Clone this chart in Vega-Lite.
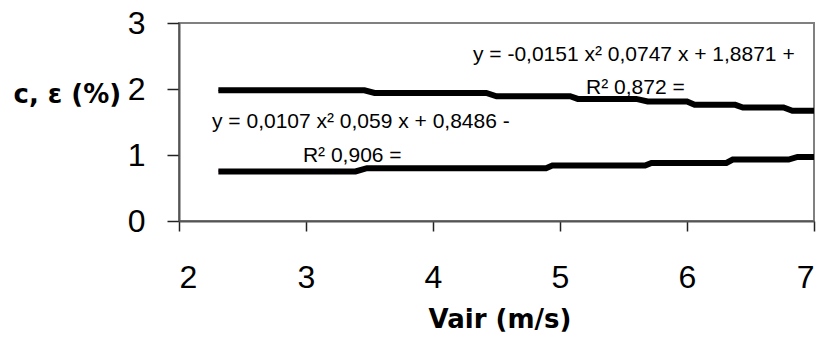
{
  "$schema": "https://vega.github.io/schema/vega-lite/v6.json",
  "autosize": {"type": "none"},
  "padding": {"left": 179, "top": 23, "right": 9, "bottom": 119},
  "width": 635,
  "height": 198,
  "background": "white",
  "datasets": {
    "lines": [
      {"x": 2.31, "y": 1.98, "s": "c"}, {"x": 3.46, "y": 1.98, "s": "c"}, {"x": 3.54, "y": 1.94, "s": "c"},
      {"x": 4.42, "y": 1.94, "s": "c"}, {"x": 4.50, "y": 1.89, "s": "c"}, {"x": 5.08, "y": 1.89, "s": "c"},
      {"x": 5.14, "y": 1.85, "s": "c"}, {"x": 5.60, "y": 1.85, "s": "c"}, {"x": 5.69, "y": 1.81, "s": "c"},
      {"x": 6.00, "y": 1.81, "s": "c"}, {"x": 6.06, "y": 1.76, "s": "c"}, {"x": 6.38, "y": 1.76, "s": "c"},
      {"x": 6.44, "y": 1.72, "s": "c"}, {"x": 6.76, "y": 1.72, "s": "c"}, {"x": 6.83, "y": 1.67, "s": "c"},
      {"x": 7.00, "y": 1.67, "s": "c"},
      {"x": 2.31, "y": 0.75, "s": "e"}, {"x": 3.39, "y": 0.75, "s": "e"}, {"x": 3.48, "y": 0.80, "s": "e"},
      {"x": 4.89, "y": 0.80, "s": "e"}, {"x": 4.94, "y": 0.84, "s": "e"}, {"x": 5.67, "y": 0.84, "s": "e"},
      {"x": 5.72, "y": 0.88, "s": "e"}, {"x": 6.31, "y": 0.88, "s": "e"}, {"x": 6.36, "y": 0.93, "s": "e"},
      {"x": 6.80, "y": 0.93, "s": "e"}, {"x": 6.87, "y": 0.97, "s": "e"}, {"x": 7.00, "y": 0.97, "s": "e"}
    ],
    "notes": [
      {"x": 4.315, "y": 2.424, "t": "y = -0,0151 x² 0,0747 x + 1,8871  +"},
      {"x": 5.205, "y": 1.924, "t": "R² 0,872 ="},
      {"x": 2.26, "y": 1.409, "t": "y = 0,0107 x² 0,059 x + 0,8486  -"},
      {"x": 2.976, "y": 0.894, "t": "R² 0,906 ="}
    ]
  },
  "layer": [
    {
      "data": {"name": "lines"},
      "transform": [
        {"regression": "y", "on": "x", "groupby": ["s"], "method": "poly", "order": 2, "extent": [2.31, 7.0]}
      ],
      "mark": {"type": "line", "strokeWidth": 1.5},
      "encoding": {
        "x": {
          "field": "x", "type": "quantitative",
          "scale": {"domain": [2, 7], "nice": false, "zero": false},
          "axis": {
            "values": [2, 3, 4, 5, 6, 7],
            "format": "d",
            "title": "Vair (m/s)",
            "titleX": 320.5, "titleY": 106, "titleAlign": "center", "titleBaseline": "alphabetic",
            "tickSize": 10, "labelPadding": 31
          }
        },
        "y": {
          "field": "y", "type": "quantitative",
          "scale": {"domain": [0, 3], "nice": false},
          "axis": {
            "values": [0, 1, 2, 3],
            "format": "d",
            "title": "c, ε (%)",
            "titleAngle": 0, "titleX": -166, "titleY": 79, "titleAlign": "left", "titleBaseline": "alphabetic",
            "tickSize": 12, "labelPadding": 22
          }
        },
        "color": {
          "field": "s", "type": "nominal",
          "scale": {"domain": ["c", "e"], "range": ["#000080", "#FF00FF"]},
          "legend": null
        }
      }
    },
    {
      "data": {"name": "lines"},
      "mark": {"type": "line", "color": "#000000", "strokeWidth": 6, "strokeCap": "butt", "strokeJoin": "miter"},
      "encoding": {
        "x": {"field": "x", "type": "quantitative"},
        "y": {"field": "y", "type": "quantitative"},
        "detail": {"field": "s", "type": "nominal"}
      }
    },
    {
      "data": {"name": "notes"},
      "mark": {"type": "text", "align": "left", "baseline": "alphabetic", "font": "Liberation Sans", "fontSize": 21, "color": "#000000"},
      "encoding": {
        "x": {"field": "x", "type": "quantitative"},
        "y": {"field": "y", "type": "quantitative"},
        "text": {"field": "t", "type": "nominal"}
      }
    }
  ],
  "config": {
    "view": {"stroke": "#808080", "strokeWidth": 2},
    "axis": {
      "grid": false,
      "labelFont": "Liberation Sans",
      "labelFontSize": 32,
      "labelColor": "#000000",
      "titleFont": "DejaVu Sans",
      "titleFontWeight": "bold",
      "titleFontSize": 26,
      "titleColor": "#000000",
      "domainColor": "#555555",
      "domainWidth": 2,
      "tickColor": "#222222",
      "tickWidth": 1.5
    }
  }
}
